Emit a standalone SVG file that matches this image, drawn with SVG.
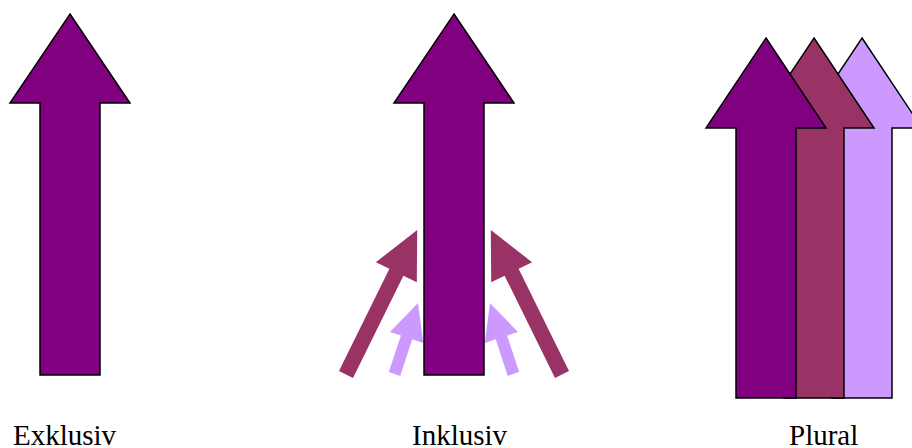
<svg xmlns="http://www.w3.org/2000/svg" width="912" height="448" viewBox="0 0 912 448">
<style>
.big{stroke:#000;stroke-width:1.5;stroke-linejoin:miter}
.p1{fill:#800080}
.p2{fill:#993366}
.p3{fill:#CC99FF}
.lbl{font-family:"Liberation Serif","Times New Roman",serif;font-size:29px;fill:#000}
</style>
<rect width="912" height="448" fill="#fff"/>
<g id="exklusiv">
<polygon class="big p1" points="70,14 130,103 100,103 100,375 40,375 40,103 10,103"/>
<text class="lbl" x="13" y="445">Exklusiv</text>
</g>
<g id="inklusiv">
<g id="connectors">
<polygon class="p2" points="339.0,371.05 389.4,268.8 375.9,262.2 417.2,230.1 416.8,282.3 403.4,275.7 353.0,377.95"/>
<polygon class="p2" points="569.0,371.05 518.6,268.8 532.1,262.2 490.8,230.1 491.2,282.3 504.6,275.7 555.0,377.95"/>
<polygon class="p3" points="388.8,372.1 400.9,335.6 390.0,332.0 418.0,303.0 423.2,343.0 412.3,339.3 400.2,375.9"/>
<polygon class="p3" points="519.2,372.1 507.1,335.6 518.0,332.0 490.0,303.0 484.8,343.0 495.7,339.3 507.8,375.9"/>
</g>
<polygon class="big p1" points="454,14 514,103 484,103 484,375 424,375 424,103 394,103"/>
<text class="lbl" x="412" y="445">Inklusiv</text>
</g>
<g id="plural">
<polygon class="big p3" points="862,38 922,128 892,128 892,398 832,398 832,128 802,128"/>
<polygon class="big p2" points="814,38 874,128 844,128 844,398 784,398 784,128 754,128"/>
<polygon class="big p1" points="766,38 826,128 796,128 796,398 736,398 736,128 706,128"/>
<text class="lbl" x="789" y="445">Plural</text>
</g>
</svg>
